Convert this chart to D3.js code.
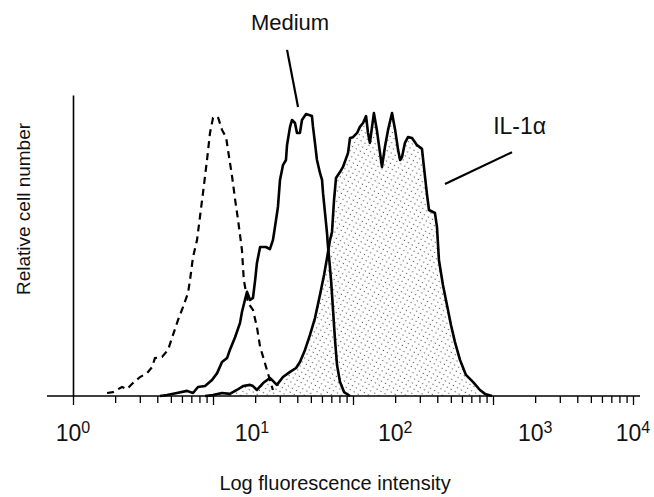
<!DOCTYPE html>
<html>
<head>
<meta charset="utf-8">
<script src="https://cdn.jsdelivr.net/npm/d3@7/dist/d3.min.js"></script>
<style>
  body { margin: 0; background: #fff; }
  svg { display: block; }
  text { font-family: "Liberation Sans", Arial, Helvetica, sans-serif; fill: #111; }
</style>
</head>
<body>
<script>
// DATA (intensity on log axis, relative cell count 0-100)

const controlX = [1.75, 1.93, 2.24, 2.43, 2.68, 3.01, 3.38, 3.67, 3.85, 4.32, 4.77, 5.18, 5.62, 6.11, 6.63, 6.85, 7.2, 7.69, 8.07, 8.48, 9.06, 9.52, 10.0, 10.5, 10.9, 11.6, 12.4, 12.8, 13.7, 14.4, 15.1, 16.1, 16.6, 17.8, 19.3, 20.6, 21.7, 22.8, 24.3, 25.5, 26.8];
const controlY = [1.0, 1.3, 3.0, 2.3, 4.3, 6.3, 7.6, 9.6, 12.6, 13.0, 15.3, 20.3, 25.2, 29.6, 34.2, 38.5, 46.2, 51.8, 59.5, 67.4, 78.4, 87.4, 92.4, 93.0, 92.4, 88.4, 86.0, 81.7, 72.8, 65.1, 58.5, 48.5, 38.5, 30.9, 28.6, 22.9, 16.3, 13.0, 8.6, 5.3, 2.0];

const mediumX = [4.18, 4.69, 5.53, 6.52, 7.2, 7.81, 8.77, 9.84, 10.7, 11.6, 12.6, 13.2, 14.4, 15.6, 16.1, 16.9, 17.5, 18.4, 19.3, 20.0, 20.6, 21.7, 23.9, 25.5, 26.8, 27.7, 29.1, 30.1, 31.6, 33.2, 33.8, 35.5, 36.7, 38.5, 39.8, 41.8, 43.2, 46.2, 50.9, 51.8, 53.5, 55.3, 58.1, 60.1, 61.1, 63.1, 65.2, 66.3, 67.4, 69.7, 72.0, 74.4, 76.9, 80.7, 86.3, 95.2];
const mediumY = [0, 0.3, 1.0, 1.7, 1.0, 3.0, 3.3, 5.3, 7.6, 11.3, 12.6, 15.3, 19.6, 24.3, 27.9, 31.9, 34.6, 31.9, 32.6, 38.5, 44.2, 49.5, 49.5, 48.8, 51.8, 56.1, 62.8, 71.8, 76.7, 78.4, 83.4, 89.4, 91.7, 90.7, 87.4, 87.4, 91.7, 93.7, 93.0, 89.4, 84.1, 78.4, 74.1, 71.8, 67.4, 60.8, 54.2, 49.5, 46.2, 38.5, 28.6, 18.6, 10.3, 4.7, 1.3, 0];

const il1X = [8.77, 10.0, 11.6, 13.2, 14.8, 16.4, 18.4, 19.3, 20.6, 22.8, 25.5, 28.6, 31.6, 35.5, 39.2, 41.8, 45.4, 49.3, 53.5, 58.1, 62.1, 65.2, 68.5, 70.8, 73.2, 75.6, 80.7, 84.8, 92.1, 95.2, 100, 107, 112, 118, 124, 128, 132, 141, 148, 161, 169, 178, 190, 200, 210, 217, 224, 235, 247, 264, 286, 311, 321, 338, 349, 385, 398, 411, 439, 469, 501, 535, 581, 641, 719, 807, 877, 984];
const il1Y = [0, 0.3, 1.0, 0.7, 2.0, 3.3, 3.7, 3.3, 2.0, 4.3, 6.0, 3.7, 6.3, 8.0, 9.3, 11.3, 15.3, 20.3, 25.9, 33.6, 40.2, 45.8, 51.8, 54.5, 65.1, 72.4, 74.4, 76.1, 80.7, 85.7, 86.0, 87.4, 89.4, 90.7, 93.0, 87.4, 84.1, 94.0, 88.4, 76.1, 82.7, 88.4, 94.0, 88.4, 81.7, 78.4, 79.4, 84.1, 86.0, 85.7, 83.4, 82.1, 76.1, 66.8, 61.8, 60.8, 56.1, 45.2, 36.9, 30.2, 23.6, 17.9, 12.0, 7.0, 4.7, 2.0, 0.7, 0];

const decades = [1, 10, 100, 1000, 10000];
const tickLabelAt = [1, 19, 200, 2000, 10000];
const tickLabelExp = ['0', '1', '2', '3', '4'];

// annotation labels: [x, y] in data units
const mediumLabel = { text: 'Medium', at: [35.5, 121.5], line: [[33.8, 115], [40.5, 96]] };
const il1Label = { text: 'IL-1\u03b1', at: [1550, 87], line: [[454, 70.4], [1367, 81]] };

const chartConfig = { w: 654, h: 497 };

function zip(xs, ys) {
    return xs.map(function(x, i) { return { x: x, y: ys[i] }; });
}

// SVG START
const svg = d3.select('body')
    .append('svg')
    .attr('width', chartConfig.w)
    .attr('height', chartConfig.h);

// SCALE
const xScale = d3.scaleLog()
    .domain([1, 10000])
    .range([73, 633]);

const yScale = d3.scaleLinear()
    .domain([0, 100])
    .range([396, 95]);

// PATTERN (sparse stipple)
const defs = svg.append('defs');
const pat = defs.append('pattern')
    .attr('id', 'stipple')
    .attr('patternUnits', 'userSpaceOnUse')
    .attr('width', 4.6)
    .attr('height', 4.6)
    .attr('patternTransform', 'rotate(30)');
pat.append('circle').attr('cx', 1.2).attr('cy', 1.2).attr('r', 0.6).attr('fill', '#222');

// CURVES
const line = d3.line()
    .x(function(d) { return xScale(d.x); })
    .y(function(d) { return yScale(d.y); });

const area = d3.area()
    .x(function(d) { return xScale(d.x); })
    .y0(yScale(0))
    .y1(function(d) { return yScale(d.y); });

const il1 = zip(il1X, il1Y);

svg.append('path')
    .datum(il1)
    .attr('d', area)
    .attr('fill', 'url(#stipple)');

svg.append('path')
    .datum(il1)
    .attr('d', line)
    .attr('fill', 'none')
    .attr('stroke', '#000')
    .attr('stroke-width', 2.6)
    .attr('stroke-linejoin', 'round');

svg.append('path')
    .datum(zip(mediumX, mediumY))
    .attr('d', line)
    .attr('fill', 'none')
    .attr('stroke', '#000')
    .attr('stroke-width', 2.6)
    .attr('stroke-linejoin', 'round');

svg.append('path')
    .datum(zip(controlX, controlY))
    .attr('d', line)
    .attr('fill', 'none')
    .attr('stroke', '#000')
    .attr('stroke-width', 2.2)
    .attr('stroke-dasharray', '7 5');

// AXIS
const minorTicks = [];
for (let d = 1; d < 10000; d *= 10) {
    for (let k = 1; k < 10; k++) minorTicks.push(d * k);
}
minorTicks.push(10000);

const xAxis = d3.axisBottom(xScale)
    .tickValues(minorTicks)
    .tickFormat('')
    .tickSizeOuter(0)
    .tickSize(7);

const gx = svg.append('g')
    .attr('transform', 'translate(0,' + yScale(0) + ')')
    .call(xAxis);
gx.select('.domain').remove();
gx.selectAll('.tick line')
    .attr('stroke', '#000')
    .attr('stroke-width', 1.3)
    .attr('y2', function(d) { return decades.indexOf(d) >= 0 ? 9 : 7; });

svg.append('line')
    .attr('x1', xScale(1) - 26)
    .attr('x2', xScale(10000) + 7)
    .attr('y1', yScale(0))
    .attr('y2', yScale(0))
    .attr('stroke', '#000')
    .attr('stroke-width', 1.6);

const yAxis = d3.axisLeft(yScale).tickValues([]).tickSizeOuter(0);
const gy = svg.append('g')
    .attr('transform', 'translate(' + xScale(1) + ',0)')
    .call(yAxis);
gy.select('.domain').attr('stroke', '#000').attr('stroke-width', 1.6);

// TICK LABELS
const labels = svg.append('g');
tickLabelAt.forEach(function(v, i) {
    const t = labels.append('text')
        .attr('x', xScale(v))
        .attr('y', 441)
        .attr('text-anchor', 'middle')
        .attr('font-size', 23)
        .text('10');
    t.append('tspan')
        .attr('dy', -8)
        .attr('font-size', 16)
        .text(tickLabelExp[i]);
});

// AXIS TITLES
svg.append('text')
    .attr('x', (xScale(1) + xScale(10000)) / 2 - 18)
    .attr('y', 490)
    .attr('text-anchor', 'middle')
    .attr('font-size', 20)
    .text('Log fluorescence intensity');

svg.append('text')
    .attr('transform', 'translate(30,' + 209 + ') rotate(-90)')
    .attr('text-anchor', 'middle')
    .attr('font-size', 19)
    .text('Relative cell number');

// ANNOTATIONS
[mediumLabel, il1Label].forEach(function(a, i) {
    svg.append('text')
        .attr('x', xScale(a.at[0]))
        .attr('y', yScale(a.at[1]))
        .attr('text-anchor', 'middle')
        .attr('font-size', i === 0 ? 22 : 23)
        .text(a.text);
    svg.append('line')
        .attr('x1', xScale(a.line[0][0]))
        .attr('y1', yScale(a.line[0][1]))
        .attr('x2', xScale(a.line[1][0]))
        .attr('y2', yScale(a.line[1][1]))
        .attr('stroke', '#000')
        .attr('stroke-width', 2.2);
});
</script>
</body>
</html>
